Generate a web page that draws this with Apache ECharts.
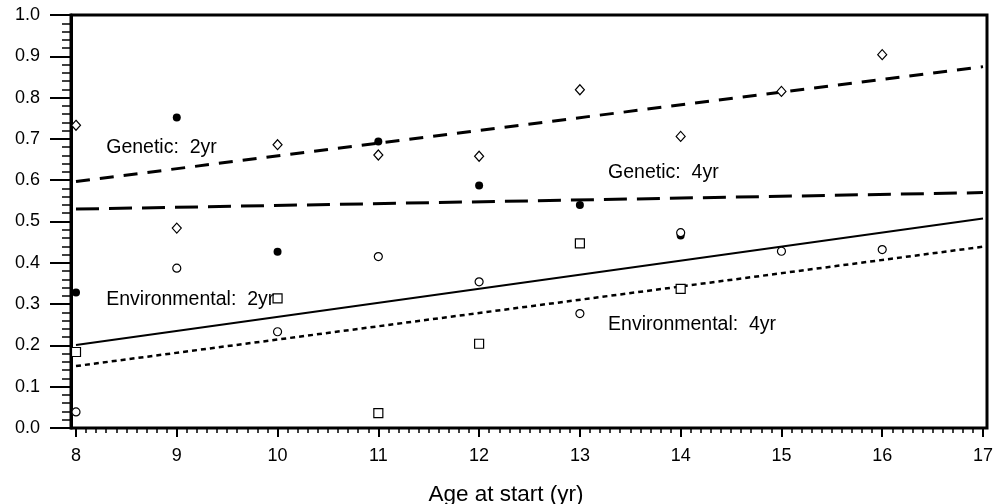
<!DOCTYPE html>
<html>
<head>
<meta charset="utf-8">
<script src="https://cdn.jsdelivr.net/npm/echarts@6/dist/echarts.min.js"></script>
<style>
html,body{margin:0;padding:0;background:#fff;}
#chart{width:1003px;height:504px;}
</style>
</head>
<body>
<div id="chart"></div>
<script>
// ---- data ----
var filledCircleX = [8, 9, 10, 11, 12, 13, 14];
var filledCircleY = [0.328, 0.752, 0.427, 0.694, 0.587, 0.540, 0.466];

var diamondX = [8, 9, 10, 11, 12, 13, 14, 15, 16];
var diamondY = [0.733, 0.484, 0.686, 0.661, 0.658, 0.819, 0.706, 0.815, 0.904];

var openCircleX = [8, 9, 10, 11, 12, 13, 14, 15, 16];
var openCircleY = [0.039, 0.387, 0.233, 0.415, 0.354, 0.277, 0.473, 0.428, 0.432];

var squareX = [8, 10, 11, 12, 13, 14];
var squareY = [0.184, 0.314, 0.036, 0.204, 0.447, 0.337];

var fitX = [8, 17];
var geneticFit2yr = [0.597, 0.875];
var geneticFit4yr = [0.530, 0.570];
var envFit2yr = [0.201, 0.507];
var envFit4yr = [0.150, 0.439];

var noteText = ['Genetic:  2yr', 'Genetic:  4yr', 'Environmental:  2yr', 'Environmental:  4yr'];
var noteX = [8.30, 13.28, 8.30, 13.28];
var noteY = [0.680, 0.619, 0.311, 0.250];

var yTickMin = 0, yTickMax = 1, yTickStep = 0.1;
var xTickMin = 8, xTickMax = 17, xTickStep = 1;
var xTitle = 'Age at start (yr)';

// ---- build ----
function zip(xs, ys) { return xs.map(function (x, i) { return [x, ys[i]]; }); }
var FONT = 'Liberation Sans';

function fitLine(name, ys, type, width) {
  return {
    name: name, type: 'line', xAxisIndex: 1, yAxisIndex: 1,
    data: zip(fitX, ys), symbol: 'none', silent: true, animation: false,
    lineStyle: { color: '#000', width: width, type: type, cap: 'butt' }, z: 2
  };
}
function pts(name, xs, ys, symbol, size, fill, border) {
  return {
    name: name, type: 'scatter', xAxisIndex: 1, yAxisIndex: 1,
    data: zip(xs, ys), symbol: symbol, symbolSize: size, animation: false,
    itemStyle: { color: fill, borderColor: '#000', borderWidth: border, opacity: 1 }, z: 4
  };
}

var chart = echarts.init(document.getElementById('chart'), null, { renderer: 'canvas' });
chart.setOption({
  backgroundColor: '#fff',
  animation: false,
  grid: [
    { left: 71, right: 16, top: 15, bottom: 76, containLabel: false, outerBoundsMode: 'none',
      show: true, borderColor: '#000', borderWidth: 3, backgroundColor: 'transparent' },
    { left: 76, right: 20, top: 15, bottom: 76, containLabel: false, outerBoundsMode: 'none' }
  ],
  xAxis: [
    { type: 'value', gridIndex: 0, min: 0, max: 1, show: false },
    {
      type: 'value', gridIndex: 1, min: xTickMin, max: xTickMax, interval: xTickStep,
      axisLine: { show: false },
      axisTick: { show: true, inside: false, length: 9, lineStyle: { color: '#000', width: 2 } },
      minorTick: { show: true, splitNumber: 10, length: 5, lineStyle: { color: '#000', width: 1.5 } },
      splitLine: { show: false },
      axisLabel: { margin: 19, color: '#000', fontFamily: FONT, fontSize: 18, lineHeight: 18 },
      name: xTitle, nameLocation: 'middle', nameGap: 55,
      nameTextStyle: { color: '#000', fontFamily: FONT, fontSize: 22.5, padding: [0, 47, 0, 0] }
    }
  ],
  yAxis: [
    {
      type: 'value', gridIndex: 0, min: yTickMin, max: yTickMax, interval: yTickStep,
      axisLine: { show: true, lineStyle: { color: '#000', width: 3 } },
      axisTick: { show: true, inside: false, length: 21, lineStyle: { color: '#000', width: 2 } },
      minorTick: { show: true, splitNumber: 5, length: 9, lineStyle: { color: '#000', width: 1.5 } },
      splitLine: { show: false },
      axisLabel: { margin: 31, color: '#000', fontFamily: FONT, fontSize: 18,
        formatter: function (v) { return v.toFixed(1); } }
    },
    { type: 'value', gridIndex: 1, min: yTickMin, max: yTickMax, show: false }
  ],
  series: [
    fitLine('Genetic 2yr fit', geneticFit2yr, [14, 10], 3),
    fitLine('Genetic 4yr fit', geneticFit4yr, [23, 10], 3),
    fitLine('Environmental 2yr fit', envFit2yr, 'solid', 2),
    fitLine('Environmental 4yr fit', envFit4yr, [5, 4], 2.5),
    pts('Filled circles', filledCircleX, filledCircleY, 'circle', 8, '#000', 0),
    pts('Diamonds', diamondX, diamondY, 'diamond', [9, 10], '#fff', 1.2),
    pts('Open circles', openCircleX, openCircleY, 'circle', 8, '#fff', 1.2),
    pts('Squares', squareX, squareY, 'rect', 9, '#fff', 1.2),
    {
      name: 'notes', type: 'scatter', xAxisIndex: 1, yAxisIndex: 1, symbolSize: 0, silent: true,
      itemStyle: { opacity: 1 },
      data: noteText.map(function (t, i) { return { name: t, value: [noteX[i], noteY[i]] }; }),
      label: { show: true, position: 'right', distance: 0, formatter: '{b}',
        color: '#000', fontFamily: FONT, fontSize: 19.5 },
      z: 5
    }
  ]
});
</script>
</body>
</html>
